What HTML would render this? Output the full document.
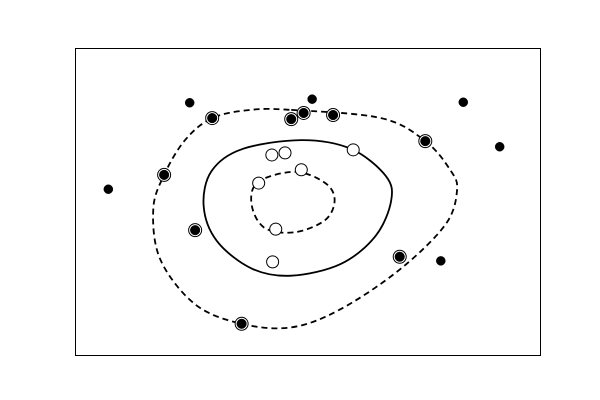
<!DOCTYPE html>
<html><head><meta charset="utf-8"><style>html,body{margin:0;padding:0;background:#fff}svg{display:block}</style></head>
<body>
<svg id="chart" width="600" height="400" viewBox="0 0 600 400" xmlns="http://www.w3.org/2000/svg">
<rect x="0" y="0" width="600" height="400" fill="#fff"/>
<g id="contours"></g>
<g id="points"></g>
<rect x="75.5" y="48.5" width="465" height="307" fill="none" stroke="#000" stroke-width="1"/>
</svg>
<script>
const outlierX=[-1.52,0.06,2.01,2.48,-2.57,1.72];
const outlierY=[1.93,2.00,1.94,1.07,0.24,-1.16];
const supportX=[-1.23,-0.21,-0.05,0.33,1.52,-1.85,-1.45,1.19,-0.85];
const supportY=[1.63,1.61,1.73,1.69,1.18,0.52,-0.56,-1.08,-2.39];
const inlierX=[-0.46,-0.29,0.59,-0.63,-0.08,-0.41,-0.45];
const inlierY=[0.91,0.95,1.01,0.36,0.62,-0.54,-1.18];
const outerX=[-0.21,0.95,1.52,1.84,1.93,1.78,1.19,0.42,-0.21,-0.85,-1.45,-1.90,-1.99,-1.85,-1.58,-1.23,-0.74];
const outerY=[1.79,1.63,1.18,0.62,0.23,-0.45,-1.33,-2.11,-2.46,-2.39,-2.01,-1.13,-0.15,0.52,1.20,1.63,1.79];
const midX=[-0.08,0.56,1.01,1.08,0.88,0.43,-0.21,-0.72,-1.17,-1.34,-1.24,-0.85];
const midY=[1.20,1.03,0.50,0.02,-0.67,-1.22,-1.45,-1.31,-0.77,-0.09,0.59,1.02];
const innerX=[-0.16,0.23,0.35,0.23,-0.16,-0.55,-0.72,-0.64];
const innerY=[0.58,0.36,0.03,-0.36,-0.60,-0.52,-0.07,0.38];
const X=v=>75+(v+3)/6*465, Y=v=>355-(v+3)/6*307;
const NS='http://www.w3.org/2000/svg';
function closedPath(xs,ys){
  const p=xs.map((x,i)=>[X(x),Y(ys[i])]);const n=p.length;let d=`M${p[0][0]},${p[0][1]}`;
  for(let i=0;i<n;i++){const p0=p[(i-1+n)%n],p1=p[i],p2=p[(i+1)%n],p3=p[(i+2)%n];
    d+=` C${p1[0]+(p2[0]-p0[0])/6},${p1[1]+(p2[1]-p0[1])/6} ${p2[0]-(p3[0]-p1[0])/6},${p2[1]-(p3[1]-p1[1])/6} ${p2[0]},${p2[1]}`;}
  return d+'Z';}
const cg=document.getElementById('contours');
[[outerX,outerY,'6,4','outer-dashed-contour'],[midX,midY,null,'decision-boundary'],[innerX,innerY,'6,4','inner-dashed-contour']].forEach(c=>{
  const e=document.createElementNS(NS,'path');e.setAttribute('d',closedPath(c[0],c[1]));
  e.setAttribute('fill','none');e.setAttribute('stroke','#000');e.setAttribute('stroke-width','1.8');
  if(c[2])e.setAttribute('stroke-dasharray',c[2]);
  
  
  cg.appendChild(e);});
const pg=document.getElementById('points');
function dot(x,y,r,fill,sw,name){const e=document.createElementNS(NS,'circle');e.setAttribute('cx',X(x));e.setAttribute('cy',Y(y));e.setAttribute('r',r);e.setAttribute('fill',fill);e.setAttribute('stroke','#000');e.setAttribute('stroke-width',sw);
  
  
  pg.appendChild(e);}
outlierX.forEach((x,i)=>dot(x,outlierY[i],4.5,'#000',0.5,'outlier-point'));
supportX.forEach((x,i)=>{dot(x,supportY[i],6.5,'#fff',1,'support-vector-ring');dot(x,supportY[i],4.8,'#000',0.5,'support-vector-point');});
inlierX.forEach((x,i)=>dot(x,inlierY[i],6,'#fff',1,'inlier-point'));
</script>
</body></html>
